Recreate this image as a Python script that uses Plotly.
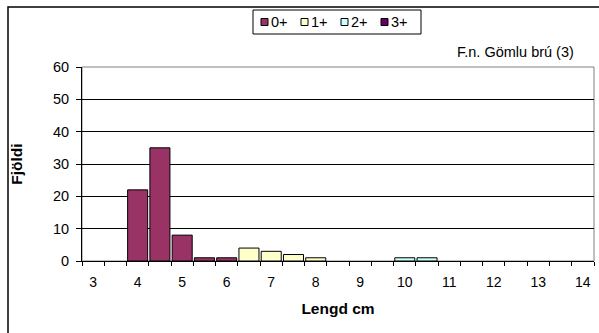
import plotly.graph_objects as go

lengths = [3, 3.5, 4, 4.5, 5, 5.5, 6, 6.5, 7, 7.5, 8, 8.5, 9, 9.5, 10, 10.5, 11, 11.5, 12, 12.5, 13, 13.5, 14]
age0 = [None, None, 22, 35, 8, 1, 1, None, None, None, None, None, None, None, None, None, None, None, None, None, None, None, None]
age1 = [None, None, None, None, None, None, None, 4, 3, 2, 1, None, None, None, None, None, None, None, None, None, None, None, None]
age2 = [None, None, None, None, None, None, None, None, None, None, None, None, None, None, 1, 1, None, None, None, None, None, None, None]
age3 = [None] * len(lengths)
series_names = ["0+", "1+", "2+", "3+"]
series_colors = ["#993366", "#FFFFCC", "#CCFFFF", "#660066"]
x_tick_vals = [3, 4, 5, 6, 7, 8, 9, 10, 11, 12, 13, 14]
x_tick_text = ["3", "4", "5", "6", "7", "8", "9", "10", "11", "12", "13", "14"]

W, H = 599, 333
L, R, T, B = 82, 5, 67, 72
pw, ph = W - L - R, H - T - B

def px(x):
    return (x - L) / pw

def py(y):
    return (H - B - y) / ph

fig = go.Figure()
for name, vals, col in zip(series_names, [age0, age1, age2, age3], series_colors):
    fig.add_trace(go.Bar(
        x=lengths, y=vals, name=name, width=0.45, showlegend=False,
        marker=dict(color=col, line=dict(color="black", width=1)),
    ))

font = "Liberation Sans, Arial, sans-serif"
shapes = [
    dict(type="rect", xref="paper", yref="paper", x0=0, x1=1, y0=0, y1=1,
         line=dict(color="#808080", width=1), layer="below"),
    dict(type="rect", xref="paper", yref="paper",
         x0=px(8), x1=px(640), y0=py(7), y1=py(380),
         line=dict(color="black", width=1.5), layer="below"),
    # legend box
    dict(type="rect", xref="paper", yref="paper",
         x0=px(253), x1=px(421), y0=py(10), y1=py(34),
         line=dict(color="black", width=1), fillcolor="white", layer="above"),
]
annotations = [dict(
    text="F.n. Gömlu brú (3)", xref="paper", yref="paper",
    x=px(576), y=py(52), xanchor="right", yanchor="middle",
    showarrow=False, font=dict(size=14.5),
)]
for i, (name, col) in enumerate(zip(series_names, series_colors)):
    x0 = 261 + i * 40
    shapes.append(dict(type="rect", xref="paper", yref="paper",
                       x0=px(x0), x1=px(x0 + 7), y0=py(18.5), y1=py(25.5),
                       line=dict(color="black", width=1), fillcolor=col, layer="above"))
    annotations.append(dict(text=name, xref="paper", yref="paper",
                            x=px(x0 + 8), y=py(22.5), xanchor="left", yanchor="middle",
                            showarrow=False, font=dict(size=14.5)))

fig.update_layout(
    width=W, height=H,
    margin=dict(l=L, r=R, t=T, b=B),
    paper_bgcolor="white", plot_bgcolor="white",
    barmode="overlay",
    font=dict(family=font, size=14, color="black"),
    showlegend=False,
    xaxis=dict(
        range=[2.75, 14.25], tickvals=x_tick_vals, ticktext=x_tick_text,
        ticks="", showgrid=False, zeroline=False, automargin=False,
        showline=True, linecolor="black", linewidth=1,
        tickfont=dict(size=14), ticklabelstandoff=8,
        minor=dict(tick0=2.75, dtick=0.5, ticks="outside", ticklen=4,
                   tickcolor="black", showgrid=False),
        title=dict(text="<b>Lengd cm</b>", font=dict(size=15.5), standoff=14),
    ),
    yaxis=dict(
        range=[0, 60], dtick=10, ticks="outside", ticklen=5, tickcolor="black",
        showgrid=True, gridcolor="black", gridwidth=1, zeroline=False, automargin=False,
        showline=True, linecolor="black", linewidth=1,
        tickfont=dict(size=14.5), ticklabelstandoff=4,
        title=dict(text="<b>Fjöldi</b>", font=dict(size=15.5), standoff=26),
    ),
    annotations=annotations,
    shapes=shapes,
)

fig.write_html("out.html")
